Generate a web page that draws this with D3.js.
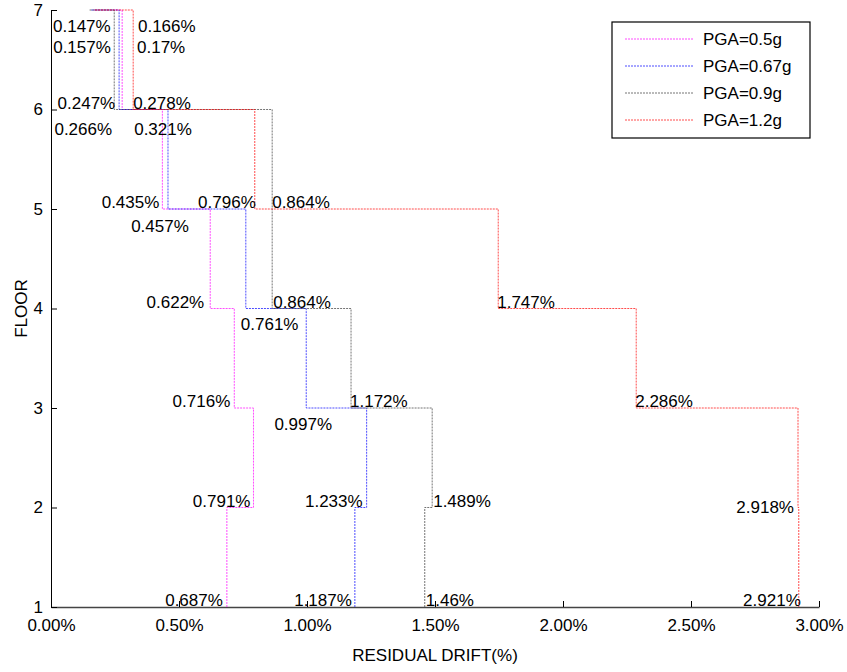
<!DOCTYPE html>
<html>
<head>
<meta charset="utf-8">
<script src="https://cdn.jsdelivr.net/npm/d3@7/dist/d3.min.js"></script>
<style>
  html, body { margin: 0; padding: 0; background: #fff; }
  svg { display: block; font-family: "Liberation Sans", Arial, sans-serif; }
</style>
</head>
<body>
<svg id="chart" width="847" height="672"></svg>
<script>
// Residual drift per floor (value at floor i = drift of story i -> i+1, floor 7 = roof)
const floors = [1, 2, 3, 4, 5, 6, 7];
const seriesNames = ["PGA=0.5g", "PGA=0.67g", "PGA=0.9g", "PGA=1.2g"];
const drift05  = [0.687, 0.791, 0.716, 0.622, 0.435, 0.278, 0.166];
const drift067 = [1.187, 1.233, 0.997, 0.761, 0.457, 0.266, 0.157];
const drift09  = [1.46, 1.489, 1.172, 0.864, 0.864, 0.247, 0.147];
const drift12  = [2.921, 2.918, 2.286, 1.747, 0.796, 0.321, 0.17];
const xTicks = [0, 0.5, 1, 1.5, 2, 2.5, 3];
const xTitle = "RESIDUAL DRIFT(%)";
const yTitle = "FLOOR";

const seriesValues = [drift05, drift067, drift09, drift12];
const colors = ["#ff00ff", "#0000ff", "#3a3a3a", "#ff0000"];

// Label placement per series and floor: [anchor, dx, dy] relative to the line vertex
const labelLayout = [
  [["end", -4, -1], ["end", -3, -1], ["end", -4, -1], ["end", -6, -1], ["end", -3, -1], ["start", 11, -1], ["start", 44.5, 22]],
  [["end", -3, -1], ["end", -4, -1], ["middle", -3, 21.5], ["start", -5, 21.5], ["middle", -8, 23], ["end", -7, 25], ["start", -38, 43]],
  [["start", 1, -1], ["start", 1, -1], ["start", -1, -1], ["start", 1, -1], ["start", 0, -1], ["end", 1, -1], ["start", -35.6, 22]],
  [["end", 2, -1], ["end", -4, 5.5], ["start", -1, -1], ["start", -1, -1], ["end", 1, -1], ["start", 1, 25], ["start", 42.5, 43]]
];

const svg = d3.select("#chart");
const margin = { left: 51, right: 28, top: 10, bottom: 65 };
const W = 847, H = 672;

const x = d3.scaleLinear().domain([0, 3]).range([margin.left, W - margin.right]);
const y = d3.scaleLinear().domain([1, 7]).range([H - margin.bottom, margin.top]);

svg.append("rect").attr("width", W).attr("height", H).attr("fill", "#fff");

// Axes
const xAxis = d3.axisBottom(x)
  .tickValues(xTicks)
  .tickFormat(d => d.toFixed(2) + "%")
  .tickSizeInner(-6).tickSizeOuter(0).tickPadding(12);
const gx = svg.append("g").attr("transform", `translate(0,${y(1)})`).call(xAxis);
gx.select(".domain").attr("stroke", "#444").attr("stroke-width", 1.4);
gx.selectAll(".tick line").attr("stroke", "#000");
gx.selectAll("text").attr("font-size", 17).attr("fill", "#000").attr("font-family", "Liberation Sans, Arial, sans-serif");

const yAxis = d3.axisLeft(y)
  .tickValues(floors)
  .tickFormat(d3.format("d"))
  .tickSizeInner(-6).tickSizeOuter(0).tickPadding(8);
const gy = svg.append("g").attr("transform", `translate(${x(0)},0)`).call(yAxis);
gy.select(".domain").attr("stroke", "#000");
gy.selectAll(".tick line").attr("stroke", "#000");
gy.selectAll("text").attr("font-size", 17).attr("fill", "#000").attr("font-family", "Liberation Sans, Arial, sans-serif");

// Axis titles
svg.append("text")
  .attr("x", (x(0) + x(3)) / 2).attr("y", 661)
  .attr("text-anchor", "middle").attr("font-size", 17).text(xTitle);
svg.append("text")
  .attr("transform", `translate(27,${(y(1) + y(7)) / 2}) rotate(-90)`)
  .attr("text-anchor", "middle").attr("font-size", 17).text(yTitle);

// Step profiles: vertical segment per story, horizontal jog at each floor
const line = d3.line().x(d => x(d[0])).y(d => y(d[1]));
seriesValues.forEach((vals, s) => {
  const pts = [];
  for (let i = 0; i < floors.length - 1; i++) {
    pts.push([vals[i], floors[i]]);
    pts.push([vals[i], floors[i + 1]]);
  }
  pts.push([vals[floors.length - 1], floors[floors.length - 1]]);
  svg.append("path")
    .attr("d", line(pts))
    .attr("fill", "none")
    .attr("stroke", colors[s])
    .attr("stroke-width", 1)
    .attr("stroke-opacity", 0.7)
    .attr("stroke-dasharray", "2,1");
});

// Value labels
seriesValues.forEach((vals, s) => {
  vals.forEach((v, i) => {
    const [anchor, dx, dy] = labelLayout[s][i];
    svg.append("text")
      .attr("x", x(v) + dx)
      .attr("y", y(floors[i]) + dy)
      .attr("text-anchor", anchor)
      .attr("font-size", 17)
      .attr("fill", "#000")
      .text(v + "%");
  });
});

// Legend
const lg = svg.append("g");
lg.append("rect")
  .attr("x", 612).attr("y", 22).attr("width", 198).attr("height", 116)
  .attr("fill", "#fff").attr("stroke", "#000").attr("stroke-width", 1.2);
seriesNames.forEach((name, s) => {
  const ry = 39 + s * 27;
  lg.append("line")
    .attr("x1", 625).attr("x2", 693).attr("y1", ry).attr("y2", ry)
    .attr("stroke", colors[s]).attr("stroke-width", 1)
    .attr("stroke-opacity", 0.7).attr("stroke-dasharray", "2,1");
  lg.append("text")
    .attr("x", 703).attr("y", ry + 6)
    .attr("font-size", 17).attr("fill", "#000").text(name);
});
</script>
</body>
</html>
